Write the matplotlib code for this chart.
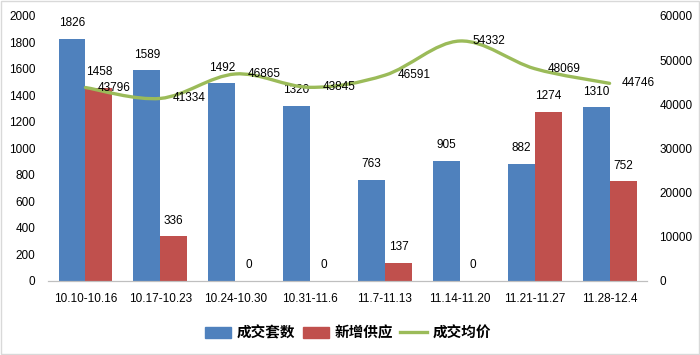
import numpy as np
import matplotlib.pyplot as plt
from matplotlib.path import Path
from matplotlib.patches import PathPatch, Rectangle
from matplotlib.lines import Line2D

plt.rcParams['font.family'] = ['Liberation Sans', 'Noto Sans CJK SC', 'DejaVu Sans']

weeks = ['10.10-10.16', '10.17-10.23', '10.24-10.30', '10.31-11.6',
         '11.7-11.13', '11.14-11.20', '11.21-11.27', '11.28-12.4']
deals = [1826, 1589, 1492, 1320, 763, 905, 882, 1310]
supply = [1458, 336, 0, 0, 137, 0, 1274, 752]
avg_price = [43796, 41334, 46865, 43845, 46591, 54332, 48069, 44746]

blue = '#4F81BD'
red = '#C0504D'
green = '#9BBB59'
fs = 8.5

fig = plt.figure(figsize=(7, 3.55), dpi=100)
ax = fig.add_axes([0.0686, 0.2085, 0.8557, 0.7465])
ax2 = ax.twinx()

x = np.arange(len(weeks))
w = 0.36
b1 = ax.bar(x - w / 2, deals, w, color=blue)
b2 = ax.bar(x + w / 2, supply, w, color=red)

for rect, v in zip(list(b1) + list(b2), deals + supply):
    ax.annotate(str(v), (rect.get_x() + rect.get_width() / 2, v),
                xytext=(0, 7), textcoords='offset points',
                ha='center', va='bottom', fontsize=fs)

ax.set_xlim(-0.5, len(weeks) - 0.5)
ax.set_ylim(0, 2000)
ax.set_yticks(range(0, 2001, 200))
ax.set_xticks(x)
ax.set_xticklabels(weeks)
ax2.set_ylim(0, 60000)
ax2.set_yticks(range(0, 60001, 10000))

# smooth line (excel style bezier)
pts = np.column_stack([x, avg_price]).astype(float)
ext = np.vstack([pts[0], pts, pts[-1]])
verts = [tuple(pts[0])]
codes = [Path.MOVETO]
for i in range(len(pts) - 1):
    p0, p1, p2, p3 = ext[i], ext[i + 1], ext[i + 2], ext[i + 3]
    c1 = p1 + (p2 - p0) / 6
    c2 = p2 - (p3 - p1) / 6
    verts += [tuple(c1), tuple(c2), tuple(p2)]
    codes += [Path.CURVE4] * 3
ax2.add_patch(PathPatch(Path(verts, codes), fill=False, edgecolor=green, lw=2.4,
                        capstyle='round'))
for xi, v in zip(x, avg_price):
    ax2.annotate(str(v), (xi, v), xytext=(9, 0), textcoords='offset points',
                 ha='left', va='center', fontsize=fs)

for a in (ax, ax2):
    for s in ('left', 'right', 'top'):
        a.spines[s].set_visible(False)
    a.spines['bottom'].set_color('#BFBFBF')
    a.tick_params(length=0, labelsize=fs)
ax.tick_params(axis='y', pad=9)
ax.tick_params(axis='x', pad=9)
ax2.tick_params(axis='y', pad=9)

handles = [Rectangle((0, 0), 1, 1, color=blue), Rectangle((0, 0), 1, 1, color=red),
           Line2D([], [], color=green, lw=2.4)]
fig.legend(handles, ['成交套数', '新增供应', '成交均价'], loc='center',
           bbox_to_anchor=(0.497, 0.063), ncol=3, frameon=False,
           prop={'family': 'Noto Sans CJK SC', 'size': 10.5, 'weight': 'bold'},
           handlelength=1.8, handleheight=0.8, handletextpad=0.4, columnspacing=0.5)

fig.add_artist(Rectangle((0.001, 0.002), 0.997, 0.995, transform=fig.transFigure,
                         fill=False, edgecolor='#D9D9D9', lw=1))

fig.savefig('out.png', dpi=100)
